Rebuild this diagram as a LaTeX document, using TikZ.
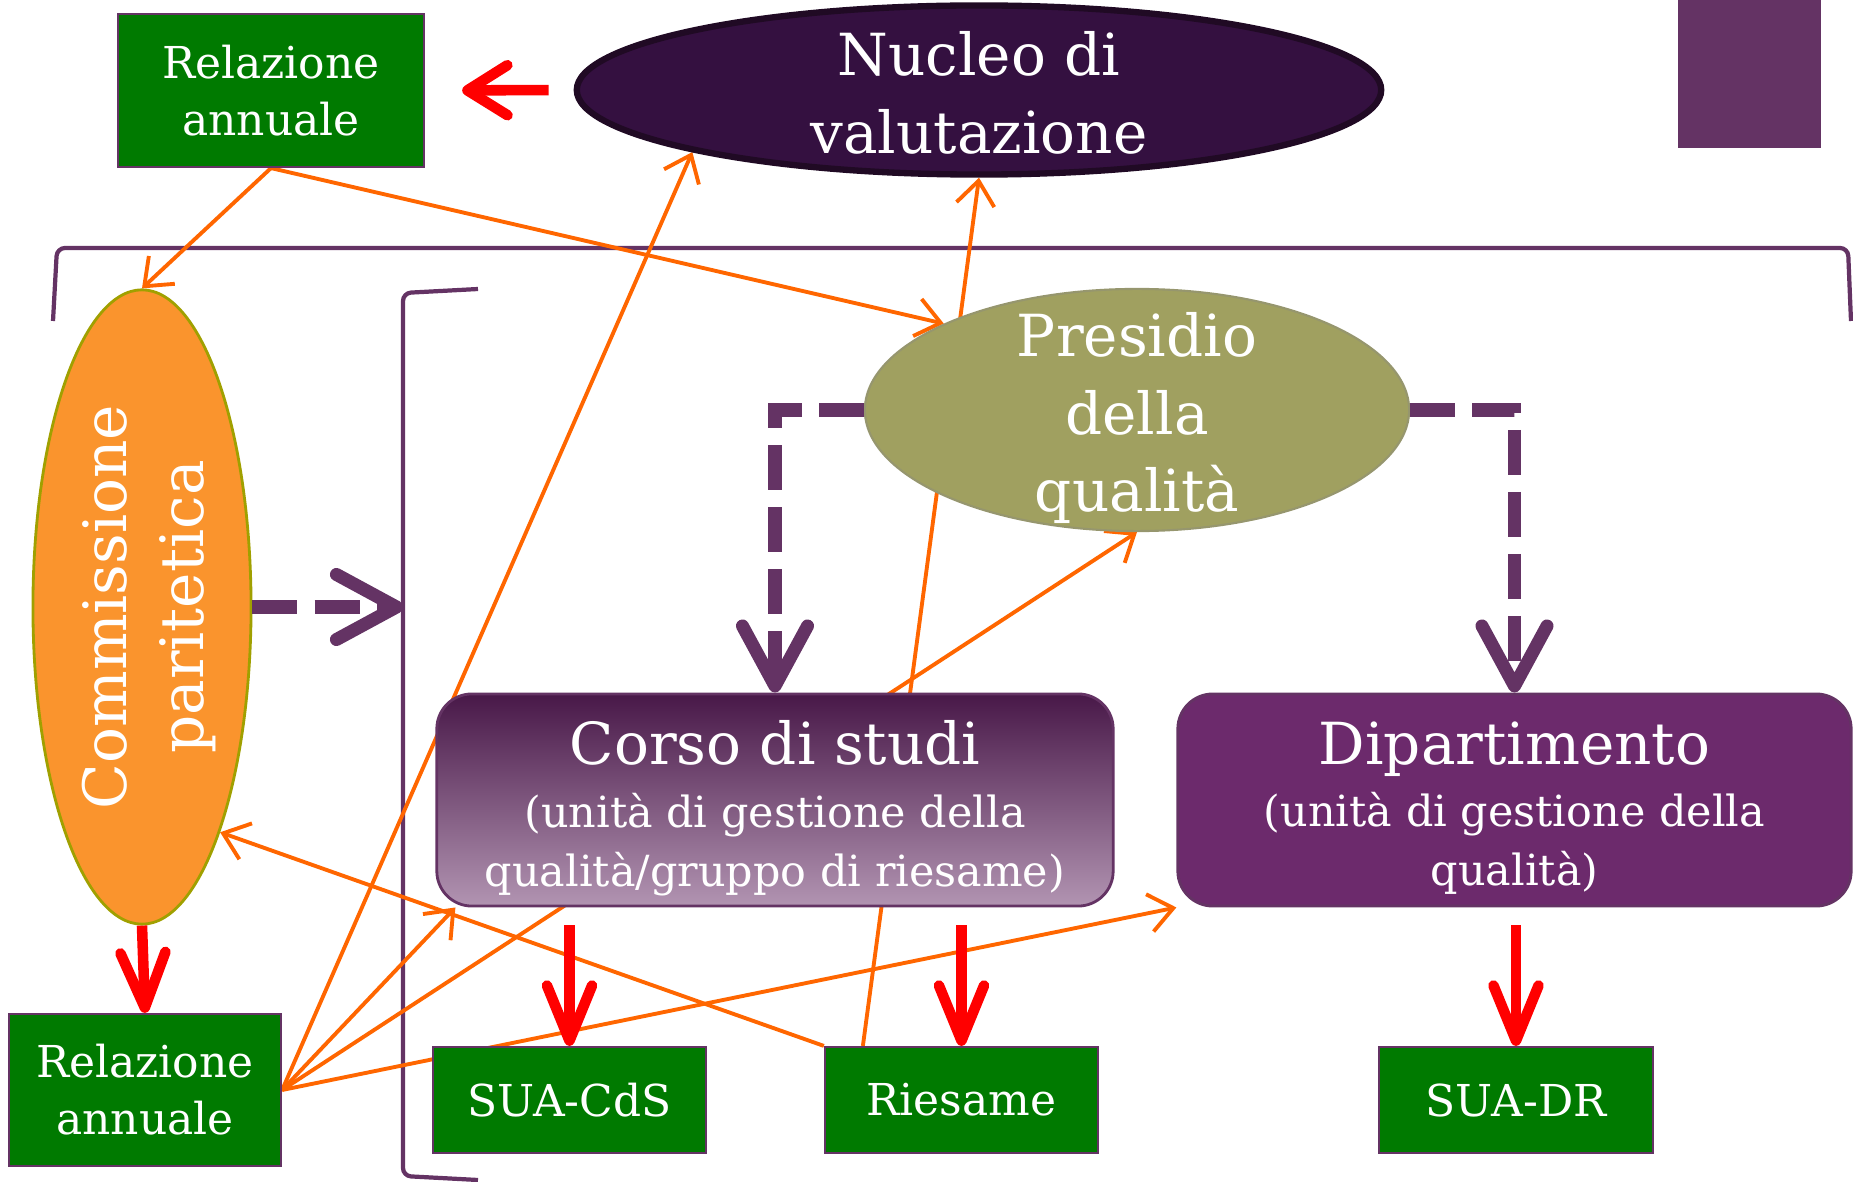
\documentclass[tikz,border=0pt]{standalone}
\usepackage{fontspec}
\setmainfont{DejaVu Serif}
\usepackage{tikz}
\usetikzlibrary{arrows.meta}
\usetikzlibrary{shapes.geometric}
\pgfdeclarelayer{bg}
\pgfsetlayers{bg,main}

\definecolor{relgreen}{RGB}{0,122,0}
\definecolor{boxpurple}{RGB}{100,51,100}
\definecolor{nucfill}{RGB}{52,16,64}
\definecolor{nucline}{RGB}{32,10,36}
\definecolor{presfill}{RGB}{160,160,96}
\definecolor{presline}{RGB}{150,150,110}
\definecolor{commfill}{RGB}{250,148,45}
\definecolor{commline}{RGB}{160,160,0}
\definecolor{corsotop}{RGB}{72,24,72}
\definecolor{corsobot}{RGB}{178,148,178}
\definecolor{dipfill}{RGB}{108,42,108}
\definecolor{linkorange}{RGB}{255,102,0}

\tikzset{
  greenbox/.style={draw=boxpurple, line width=0.6pt, fill=relgreen, text=white,
    align=center, inner sep=0pt, font=\fontsize{12.5}{16.2}\selectfont},
  bigtext/.style={text=white, align=center, font=\fontsize{16.5}{22}\selectfont},
  unitbox/.style={draw=boxpurple, line width=0.8pt, rounded corners=0.35cm,
    inner sep=0pt, minimum height=2.12cm},
  unittext/.style={text=white, align=center, font=\fontsize{12.2}{16.8}\selectfont},
  redarrow/.style={red, line width=3pt, -{Straight Barb[length=4mm,width=5mm,round]}},
  reddown/.style={red, line width=3pt, -{Straight Barb[length=5.5mm,width=4.5mm,round]}},
  dasharrow/.style={boxpurple, line width=3.7pt, dash pattern=on 0.45cm off 0.17cm,
    -{Straight Barb[length=6mm,width=6.5mm,round]}},
  orangearrow/.style={linkorange, line width=1.1pt, -{Straight Barb[length=2.4mm,width=3.8mm]}},
  bracketline/.style={boxpurple, line width=1.2pt, rounded corners=0.08cm},
}

\begin{document}
\begin{tikzpicture}[x=0.01cm, y=-0.01cm]
        \useasboundingbox (0,0) rectangle (1853,1182);

        \fill[boxpurple] (1678,0) rectangle (1821,148);

        \node[ellipse, fill=nucfill, draw=nucline, line width=1.8pt, inner sep=0pt,
              minimum width=8.04cm, minimum height=1.69cm] (nucleo) at (979,90) {};
        \node[bigtext] (nucleotxt) at ([yshift=-0.03cm]nucleo.center) {Nucleo di\\valutazione};

        \node[ellipse, fill=presfill, draw=presline, line width=0.6pt, inner sep=0pt,
              minimum width=5.44cm, minimum height=2.42cm] (presidio) at (1137,410) {};
        \node[bigtext] (presidiotxt) at ([yshift=-0.08cm]presidio.center) {Presidio\\della\\qualità};

        \node[ellipse, fill=commfill, draw=commline, line width=0.8pt, inner sep=0pt,
              minimum width=2.18cm, minimum height=6.34cm] (comm) at (142,607) {};
        \node[bigtext, rotate=90, font=\fontsize{17}{22}\selectfont] (commtxt)
            at ([xshift=0.07cm]comm.center) {Commissione\\paritetica};

        \node[unitbox, top color=corsotop, bottom color=corsobot, minimum width=6.76cm] (corso) at (775,800) {};
        \node[unittext] (corsotxt) at ([yshift=-0.08cm]corso.center)
            {{\fontsize{16.5}{20}\selectfont Corso di studi}\\[1pt](unità di gestione della\\qualità/gruppo di riesame)};
        \node[unitbox, fill=dipfill, minimum width=6.73cm] (dip) at (1514.5,800) {};
        \node[unittext] (diptxt) at ([yshift=-0.08cm]dip.center)
            {{\fontsize{16.5}{20}\selectfont Dipartimento}\\[1pt](unità di gestione della\\qualità)};

        \node[greenbox, minimum width=3.06cm, minimum height=1.53cm] (reltop) at (271,90.5) {Relazione\\annuale};
        \node[greenbox, minimum width=2.72cm, minimum height=1.52cm] (relbot) at (145,1090) {Relazione\\annuale};
        \node[greenbox, minimum width=2.73cm, minimum height=1.06cm] (suacds) at (569.5,1100) {SUA-CdS};
        \node[greenbox, minimum width=2.73cm, minimum height=1.06cm] (riesame) at (961.5,1100) {Riesame};
        \node[greenbox, minimum width=2.73cm, minimum height=1.06cm] (suadr) at (1516,1100) {SUA-DR};

        \coordinate (brleft) at (403,607);

        \begin{pgfonlayer}{bg}
            \draw[bracketline] (53,321) -- (57,248) -- (1848,248) -- (1851,321);
            \draw[bracketline] (478,289) -- (403,293) -- (403,1176) -- (478,1180);

            \draw[orangearrow] (reltop.south) -- (comm.north);
            \draw[orangearrow] (reltop.south) -- (presidio.north west);
            \draw[orangearrow] (relbot.east) -- (nucleo.south west);
            \draw[orangearrow] (relbot.east) -- ([xshift=0.2cm]corso.south west);
            \draw[orangearrow] (relbot.east) -- (presidio.south);
            \draw[orangearrow] (relbot.east) -- (dip.south west);
            \draw[orangearrow] (riesame.north west) -- (comm.south east);
            \draw[orangearrow] ([xshift=0.39cm]riesame.north west) -- (nucleo.south);
        \end{pgfonlayer}

        \draw[redarrow, shorten <=0.25cm, shorten >=0.37cm] (nucleo.west) -- (reltop.east);
        \draw[reddown] (comm.south) -- (relbot.north);
        \draw[reddown, shorten <=0.18cm] (corso.south -| suacds.north) -- (suacds.north);
        \draw[reddown, shorten <=0.18cm] (corso.south -| riesame.north) -- (riesame.north);
        \draw[reddown, shorten <=0.18cm] (dip.south -| suadr.north) -- (suadr.north);

        \draw[dasharrow] (comm.east) -- (brleft);
        \draw[dasharrow] (presidio.west) -| (corso.north);
        \draw[dasharrow] (presidio.east) -| (dip.north);
    \end{tikzpicture}
\end{document}
